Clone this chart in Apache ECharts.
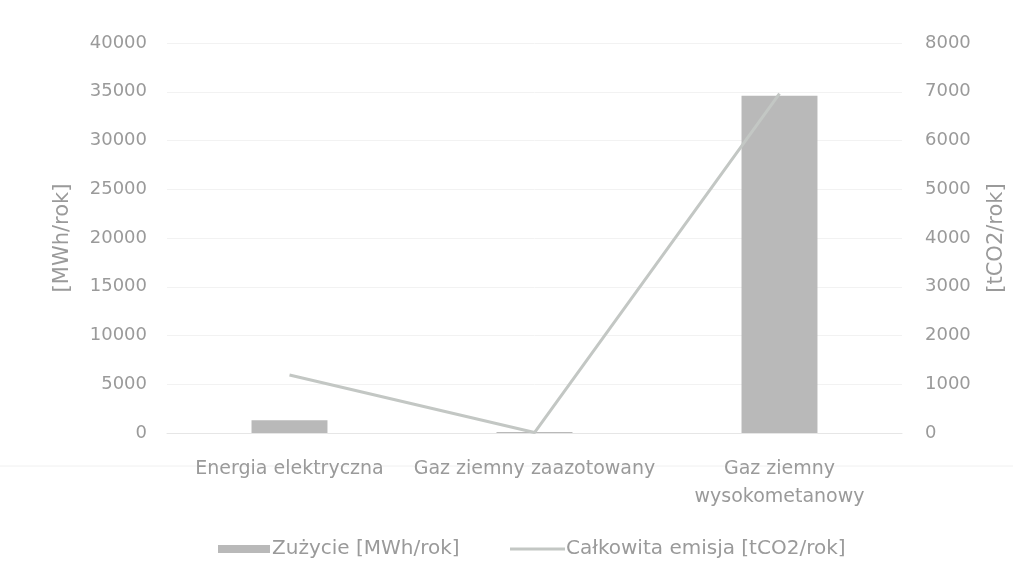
<!DOCTYPE html>
<html>
<head>
<meta charset="utf-8">
<script src="https://cdn.jsdelivr.net/npm/echarts@6/dist/echarts.min.js"></script>
<style>
  html, body { margin: 0; padding: 0; background: #fff; }
  #chart { width: 1013px; height: 579px; }
</style>
</head>
<body>
<div id="chart"></div>
<script>
// Energy use and total emission per carrier
const categories = ['Energia elektryczna', 'Gaz ziemny zaazotowany', 'Gaz ziemny\nwysokometanowy'];
const usage = [1300, 100, 34600];        // MWh/rok
const emission = [1190, 10, 6960];       // tCO2/rok
const usageTicks = { min: 0, max: 40000, interval: 5000 };
const emissionTicks = { min: 0, max: 8000, interval: 1000 };

const textColor = '#9a9a9a';
const font = '"DejaVu Sans", "Open Sans", sans-serif';
const barColor = '#b9b9b9';
const lineColor = '#c3c7c4';

const chart = echarts.init(document.getElementById('chart'));
chart.setOption({
  backgroundColor: '#ffffff',
  animation: false,
  textStyle: { fontFamily: font, color: textColor },
  grid: { left: 167, right: 111, top: 43, bottom: 146, containLabel: false, outerBoundsMode: 'none' },
  legend: [
    {
      left: 218,
      top: 539,
      padding: 0,
      itemWidth: 52,
      itemHeight: 8,
      textStyle: { fontSize: 20, color: textColor, fontFamily: font, padding: [0, 0, 0, -3] },
      data: [{ name: 'Zużycie [MWh/rok]', icon: 'rect' }]
    },
    {
      left: 510,
      top: 539,
      padding: 0,
      itemWidth: 55,
      itemHeight: 3,
      textStyle: { fontSize: 20, color: textColor, fontFamily: font, padding: [0, 0, 0, -4] },
      data: [{ name: 'Całkowita emisja [tCO2/rok]', icon: 'rect' }]
    }
  ],
  xAxis: {
    type: 'category',
    data: categories,
    axisTick: { show: false },
    axisLine: { lineStyle: { color: '#e6e6e6' } },
    axisLabel: { fontSize: 19, color: textColor, margin: 22, lineHeight: 28, interval: 0 }
  },
  yAxis: [
    {
      type: 'value',
      min: usageTicks.min, max: usageTicks.max, interval: usageTicks.interval,
      name: '[MWh/rok]',
      nameLocation: 'middle',
      nameGap: 94,
      nameRotate: 90,
      nameTextStyle: { fontSize: 21, color: textColor },
      axisLabel: { fontSize: 18, color: textColor, margin: 20, formatter: v => String(v) },
      splitLine: { lineStyle: { color: '#f2f2f2' } },
      axisLine: { show: false },
      axisTick: { show: false }
    },
    {
      type: 'value',
      min: emissionTicks.min, max: emissionTicks.max, interval: emissionTicks.interval,
      name: '[tCO2/rok]',
      nameLocation: 'middle',
      nameGap: 84,
      nameRotate: 90,
      nameTextStyle: { fontSize: 21, color: textColor },
      axisLabel: { fontSize: 18, color: textColor, margin: 23, formatter: v => String(v) },
      splitLine: { show: false },
      axisLine: { show: false },
      axisTick: { show: false }
    }
  ],
  series: [
    {
      name: 'Zużycie [MWh/rok]',
      type: 'bar',
      yAxisIndex: 0,
      barWidth: '31%',
      itemStyle: { color: barColor },
      data: usage
    },
    {
      name: 'Całkowita emisja [tCO2/rok]',
      type: 'line',
      yAxisIndex: 1,
      symbol: 'none',
      lineStyle: { color: lineColor, width: 3 },
      itemStyle: { color: lineColor },
      data: emission
    }
  ],
  graphic: [
    {
      type: 'line',
      shape: { x1: 0, y1: 466, x2: 1013, y2: 466 },
      style: { stroke: '#f0f0f0', lineWidth: 1 },
      z: -1
    }
  ]
});
</script>
</body>
</html>
